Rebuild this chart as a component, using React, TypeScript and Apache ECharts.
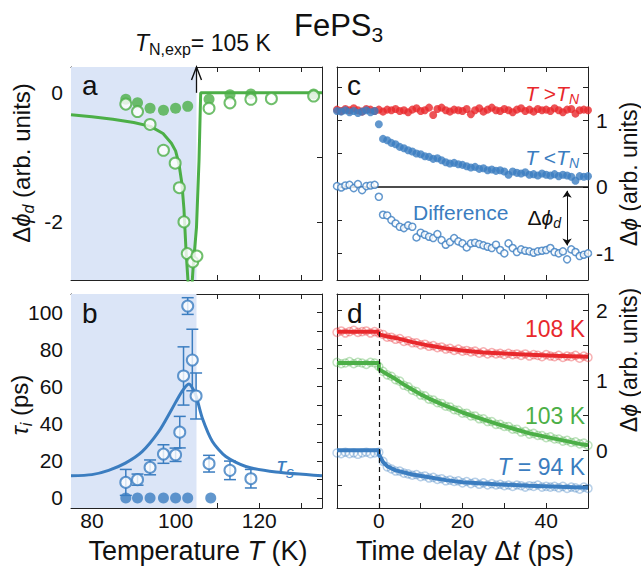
import React, { useEffect, useRef } from "react";
import * as echarts from "echarts";

// ---------------- data ----------------
// Panel a: phase change vs temperature
const TN = 105;
const aFilledT = [88.1, 90.9, 93.9, 97.1, 100, 102.9, 108, 113, 118, 133];
const aFilled = [-0.1, -0.155, -0.24, -0.27, -0.24, -0.21, -0.1, -0.03, -0.02, -0.02];
const aOpenT = [88.1, 90.9, 93.9, 97.1, 99.9, 100.9, 102, 102.8, 104.1, 105.1, 108, 113, 118, 122.9, 133];
const aOpen = [-0.175, -0.29, -0.49, -0.89, -1.09, -1.47, -2.0, -2.49, -2.62, -2.53, -0.24, -0.155, -0.1, -0.09, -0.05];
const aFitT = [75, 80, 85, 90, 94, 97, 99, 100, 100.8, 101.5, 102, 102.5, 103, 103.3, 103.8, 104.2, 105, 105.6, 106, 135];
const aFit = [-0.34, -0.37, -0.41, -0.46, -0.52, -0.63, -0.78, -0.9, -1.1, -1.4, -1.8, -2.45, -2.95, -3.2, -3.1, -2.7, -2.08, -1.05, 0, 0];

// Panel b: relaxation times
const bT = [88.1, 90.9, 93.9, 97.1, 100, 101, 101.9, 102.9, 104, 104.9, 108, 113, 118];
const bTau = [8.4, 9.9, 16.5, 23.7, 23.3, 35.5, 65.8, 103.5, 74.4, 55, 18.5, 14.9, 10.4];
const bErr = [7, 3, 4, 5, 3.6, 8.5, 15.7, 4.5, 16.6, 12.4, 4.5, 5, 5];
const bZeroT = [88.1, 90.9, 93.9, 97.1, 100, 102.9, 108.4];
const bZero = [0, 0, 0, 0, 0, 0, 0];
const bFitT = [75, 80, 84, 88, 92, 96, 99, 101.5, 103.2, 104.8, 106.4, 108.8, 112, 116.8, 124, 135];
const bFit = [12, 12.6, 14.9, 18.8, 25, 35.9, 47.5, 57.4, 61.5, 55.6, 43, 30.5, 22.4, 17, 14, 12];

// Panel c: time traces (t = -10 ... 50 ps)
const times = Array.from({ length: 61 }, (_, i) => i - 10);
const cRed = [
  1.16, 1.14, 1.17, 1.15, 1.18, 1.15, 1.13, 1.17, 1.16, 1.14,
  1.16, 1.13, 1.16, 1.15, 1.17, 1.14, 1.15, 1.12, 1.16, 1.18,
  1.14, 1.15, 1.19, 1.08, 1.17, 1.19, 1.15, 1.13, 1.16, 1.15,
  1.14, 1.17, 1.09, 1.15, 1.18, 1.13, 1.16, 1.19, 1.15, 1.14,
  1.17, 1.15, 1.12, 1.16, 1.18, 1.14, 1.16, 1.13, 1.17, 1.15,
  1.16, 1.14, 1.18, 1.15, 1.12, 1.16, 1.17, 1.1, 1.15, 1.16,
  1.15,
];
const cBlue = [
  1.14, 1.13, 1.15, 1.12, 1.14, 1.11, 1.13, 1.15, 1.12, 1.14,
  0.94, 0.72, 0.7, 0.66, 0.64, 0.6, 0.58, 0.55, 0.53, 0.5,
  0.49, 0.46, 0.45, 0.42, 0.43, 0.4, 0.37, 0.35, 0.36, 0.34,
  0.33, 0.31, 0.29, 0.3, 0.27, 0.28, 0.25, 0.26, 0.24, 0.25,
  0.23, 0.18, 0.23, 0.21, 0.2, 0.22, 0.18, 0.19, 0.17, 0.2,
  0.18, 0.17, 0.19, 0.16, 0.18, 0.17, 0.15, 0.09, 0.16, 0.15,
  0.16,
];
const cDiff = [
  0.01, -0.01, 0.02, 0.03, -0.02, 0.04, -0.05, 0.01, 0.02, 0.03,
  -0.15, -0.42, -0.43, -0.5, -0.55, -0.6, -0.62, -0.58, -0.6, -0.76,
  -0.69, -0.72, -0.75, -0.77, -0.71, -0.8, -0.87, -0.83, -0.77, -0.82,
  -0.85, -0.91, -0.85, -0.84, -0.86, -0.88, -0.9, -0.92, -0.87, -0.95,
  -1.0, -0.85, -0.92, -0.98, -0.94, -0.96, -0.97, -0.99, -0.97, -0.96,
  -0.95, -0.92, -0.98, -1.0, -0.97, -1.09, -0.94, -0.98, -1.04, -1.02,
  -1.0,
];

// Panel d: traces at three temperatures
const dRed = [
  1.69, 1.71, 1.68, 1.7, 1.72, 1.69, 1.7, 1.71, 1.68, 1.7,
  1.68, 1.66, 1.62, 1.62, 1.59, 1.6, 1.56, 1.57, 1.54, 1.54,
  1.51, 1.52, 1.49, 1.5, 1.47, 1.48, 1.45, 1.46, 1.43, 1.45,
  1.42, 1.43, 1.41, 1.42, 1.39, 1.41, 1.38, 1.4, 1.38, 1.39,
  1.37, 1.39, 1.37, 1.38, 1.36, 1.38, 1.35, 1.37, 1.36, 1.34,
  1.37, 1.35, 1.34, 1.36, 1.33, 1.35, 1.34, 1.36, 1.32, 1.35,
  1.33,
];
const dGreen = [
  1.26, 1.24, 1.25, 1.27, 1.24, 1.26, 1.25, 1.23, 1.26, 1.25,
  1.2, 1.13, 1.08, 1.06, 1.01, 0.99, 0.93, 0.91, 0.86, 0.84,
  0.79, 0.78, 0.73, 0.72, 0.68, 0.67, 0.63, 0.62, 0.58, 0.57,
  0.53, 0.53, 0.49, 0.49, 0.45, 0.45, 0.41, 0.41, 0.37, 0.37,
  0.34, 0.34, 0.3, 0.3, 0.26, 0.27, 0.23, 0.24, 0.21, 0.21,
  0.18, 0.19, 0.16, 0.16, 0.13, 0.14, 0.11, 0.12, 0.09, 0.1,
  0.07,
];
const dBlue = [
  -0.04, -0.05, -0.03, -0.05, -0.04, -0.06, -0.04, -0.03, -0.05, -0.04,
  -0.03, -0.16, -0.24, -0.27, -0.3, -0.3, -0.33, -0.34, -0.36, -0.35,
  -0.38, -0.37, -0.4, -0.39, -0.42, -0.41, -0.44, -0.43, -0.45, -0.44,
  -0.47, -0.45, -0.48, -0.46, -0.49, -0.47, -0.5, -0.48, -0.5, -0.49,
  -0.51, -0.5, -0.52, -0.5, -0.51, -0.53, -0.51, -0.52, -0.5, -0.53,
  -0.52, -0.53, -0.52, -0.54, -0.52, -0.55, -0.53, -0.54, -0.56, -0.53,
  -0.55,
];
const dRedFitT = [-10, 0, 0, 2, 4, 8, 12, 16, 20, 25, 30, 36, 42, 50];
const dRedFit = [1.7, 1.7, 1.66, 1.63, 1.61, 1.55, 1.5, 1.46, 1.43, 1.4, 1.385, 1.37, 1.355, 1.34];
const dGreenFitT = [-10, 0, 0, 2, 4, 6, 8, 10, 12, 15, 18, 20, 24, 28, 32, 36, 40, 44, 48, 50];
const dGreenFit = [1.25, 1.25, 1.16, 1.09, 1.02, 0.94, 0.87, 0.8, 0.74, 0.66, 0.59, 0.54, 0.46, 0.38, 0.31, 0.24, 0.19, 0.14, 0.09, 0.07];
const dBlueFitT = [-10, 0, 0, 1, 2, 4, 8, 12, 16, 20, 28, 36, 50];
const dBlueFit = [0, 0, -0.06, -0.17, -0.23, -0.29, -0.35, -0.39, -0.43, -0.46, -0.49, -0.51, -0.54];

// ticks
const tempTicks = [80, 90, 100, 110, 120, 130];
const tempLabels = [80, 100, 120];
const aYTicks = [-2, -1, 0];
const aYLabels = [-2, 0];
const bYTicks = [0, 10, 20, 30, 40, 50, 60, 70, 80, 90, 100];
const bYLabels = [0, 20, 40, 60, 80, 100];
const timeTicks = [0, 10, 20, 30, 40];
const timeLabels = [0, 20, 40];
const cYTicks = [-1, -0.5, 0, 0.5, 1, 1.5];
const cYLabels = [-1, 0, 1];
const dYTicks = [-0.5, 0, 0.5, 1, 1.5, 2];
const dYLabels = [0, 1, 2];

// ---------------- style ----------------
const FONT = '"Liberation Sans", Arial, Helvetica, sans-serif';
const BLUE = "#3b7dc0";
const GREEN = "#4caf47";
const RED = "#e8282c";
const SHADE = "#dbe5f7";
const AX = "#222";
const TXT = "#111";

const G = {
  a: { left: 71, top: 67, width: 251, height: 213 },
  b: { left: 71, top: 294, width: 251, height: 214 },
  c: { left: 337, top: 67, width: 251, height: 213 },
  d: { left: 337, top: 294, width: 251, height: 214 },
};
const TMIN = 75, TMAX = 135;
const AYMIN = -2.9, AYMAX = 0.4;
const BYMIN = -5.4, BYMAX = 110;
const XMIN = -10, XMAX = 50;
const CYMIN = -1.4, CYMAX = 1.8;
const DYMIN = -0.83, DYMAX = 2.24;

const pairs = (xs: number[], ys: number[]) => xs.map((x, i) => [x, ys[i]]);

function axis(gridIndex: number, min: number, max: number, position: string, ticks: number[], labels?: number[], margin = 8) {
  return {
    type: "value",
    gridIndex,
    min,
    max,
    position,
    axisLine: { show: true, onZero: false, lineStyle: { color: AX, width: 1 } },
    axisTick: { show: true, inside: true, length: 5, customValues: ticks, lineStyle: { color: AX, width: 1 } },
    axisLabel: labels
      ? { show: true, customValues: labels, fontSize: 21, fontFamily: FONT, color: TXT, margin }
      : { show: false },
    splitLine: { show: false },
  };
}

function rich(size: number, color: string, lhf: number) {
  const lh = Math.round(size * lhf);
  const ss = Math.round(size * 0.68);
  return {
    n: { fontSize: size, fontFamily: FONT, lineHeight: lh, verticalAlign: "middle", fill: color, color },
    i: { fontSize: size, fontFamily: FONT, fontStyle: "italic", lineHeight: lh, verticalAlign: "middle", fill: color, color },
    s: { fontSize: ss, fontFamily: FONT, lineHeight: ss, verticalAlign: "bottom", fill: color, color },
    si: { fontSize: ss, fontFamily: FONT, fontStyle: "italic", lineHeight: ss, verticalAlign: "bottom", fill: color, color },
  };
}

function txt(x: number, y: number, text: string, size: number, color: string, align = "left", rotation = 0, lhf = 1.25) {
  return {
    type: "text",
    x,
    y,
    rotation,
    z: 100,
    silent: true,
    style: {
      text,
      fill: color,
      fontSize: size,
      fontFamily: FONT,
      align,
      verticalAlign: "middle",
      textAlign: align,
      textVerticalAlign: "middle",
      rich: rich(size, color, lhf),
    },
  };
}

const openCircle = (color: string, bw: number) => ({ color: "#fff", borderColor: color, borderWidth: bw });

export default function App() {
  const ref = useRef<HTMLDivElement>(null);
  useEffect(() => {
    if (!ref.current) return;
    const chart = echarts.init(ref.current, null, { renderer: "svg" });
    const xTN = G.a.left + ((TN - TMIN) / (TMAX - TMIN)) * G.a.width;
    const option: any = {
      animation: false,
      backgroundColor: "#fff",
      grid: [
        { ...G.a, containLabel: false },
        { ...G.b, containLabel: false },
        { ...G.c, containLabel: false },
        { ...G.d, containLabel: false },
      ],
      xAxis: [
        axis(0, TMIN, TMAX, "bottom", tempTicks),
        axis(0, TMIN, TMAX, "top", tempTicks),
        axis(1, TMIN, TMAX, "bottom", tempTicks, tempLabels, 2),
        axis(1, TMIN, TMAX, "top", tempTicks),
        axis(2, XMIN, XMAX, "bottom", timeTicks),
        axis(2, XMIN, XMAX, "top", timeTicks),
        axis(3, XMIN, XMAX, "bottom", timeTicks, timeLabels, 2),
        axis(3, XMIN, XMAX, "top", timeTicks),
      ],
      yAxis: [
        axis(0, AYMIN, AYMAX, "left", aYTicks, aYLabels),
        axis(0, AYMIN, AYMAX, "right", aYTicks),
        axis(1, BYMIN, BYMAX, "left", bYTicks, bYLabels),
        axis(1, BYMIN, BYMAX, "right", bYTicks),
        axis(2, CYMIN, CYMAX, "left", cYTicks),
        axis(2, CYMIN, CYMAX, "right", cYTicks, cYLabels),
        axis(3, DYMIN, DYMAX, "left", dYTicks),
        axis(3, DYMIN, DYMAX, "right", dYTicks, dYLabels),
      ],
      series: [
        // ---- panel a ----
        {
          type: "scatter", xAxisIndex: 0, yAxisIndex: 0, data: [], silent: true, z: 1,
          markArea: { silent: true, itemStyle: { color: SHADE }, data: [[{ xAxis: TMIN }, { xAxis: TN }]] },
        },
        {
          type: "line", xAxisIndex: 0, yAxisIndex: 0, data: pairs(aFitT, aFit), showSymbol: false, symbol: "none",
          clip: true, lineStyle: { color: GREEN, width: 3 }, z: 2,
          markLine: {
            silent: true, symbol: "none", label: { show: false },
            lineStyle: { color: TXT, width: 1.3, type: "solid" },
            data: [[{ coord: [TN, 0] }, { coord: [TN, AYMAX] }]],
          },
        },
        { type: "scatter", xAxisIndex: 0, yAxisIndex: 0, data: pairs(aFilledT, aFilled), symbolSize: 11, itemStyle: { color: GREEN }, z: 3 },
        { type: "scatter", xAxisIndex: 0, yAxisIndex: 0, data: pairs(aOpenT, aOpen), symbolSize: 11, itemStyle: openCircle(GREEN, 2), z: 4 },
        // ---- panel b ----
        {
          type: "scatter", xAxisIndex: 2, yAxisIndex: 2, data: [], silent: true, z: 1,
          markArea: { silent: true, itemStyle: { color: SHADE }, data: [[{ xAxis: TMIN }, { xAxis: TN }]] },
        },
        {
          type: "line", xAxisIndex: 2, yAxisIndex: 2, data: pairs(bFitT, bFit), showSymbol: false, symbol: "none",
          smooth: 0.25, lineStyle: { color: BLUE, width: 3 }, z: 2,
        },
        {
          type: "custom", xAxisIndex: 2, yAxisIndex: 2, z: 3,
          data: bT.map((t, i) => [t, bTau[i] - bErr[i], bTau[i] + bErr[i]]),
          encode: { x: 0, y: [1, 2] },
          renderItem: (_p: any, api: any) => {
            const x = api.value(0);
            const lo = api.coord([x, api.value(1)]);
            const hi = api.coord([x, api.value(2)]);
            const w = 6;
            const st = { stroke: BLUE, lineWidth: 1.5 };
            return {
              type: "group",
              children: [
                { type: "line", shape: { x1: hi[0], y1: hi[1], x2: lo[0], y2: lo[1] }, style: st },
                { type: "line", shape: { x1: hi[0] - w, y1: hi[1], x2: hi[0] + w, y2: hi[1] }, style: st },
                { type: "line", shape: { x1: lo[0] - w, y1: lo[1], x2: lo[0] + w, y2: lo[1] }, style: st },
              ],
            };
          },
        },
        { type: "scatter", xAxisIndex: 2, yAxisIndex: 2, data: pairs(bT, bTau), symbolSize: 11, itemStyle: openCircle(BLUE, 2), z: 4 },
        { type: "scatter", xAxisIndex: 2, yAxisIndex: 2, data: pairs(bZeroT, bZero), symbolSize: 11, itemStyle: { color: BLUE }, z: 5 },
        // ---- panel c ----
        {
          type: "scatter", xAxisIndex: 4, yAxisIndex: 5, data: pairs(times, cRed), symbolSize: 8, itemStyle: { color: RED }, z: 3,
          markLine: {
            silent: true, symbol: "none", label: { show: false },
            lineStyle: { color: TXT, width: 1.5, type: "solid" },
            data: [{ yAxis: 0 }],
          },
        },
        { type: "scatter", xAxisIndex: 4, yAxisIndex: 5, data: pairs(times, cBlue), symbolSize: 8, itemStyle: { color: BLUE }, z: 4 },
        {
          type: "scatter", xAxisIndex: 4, yAxisIndex: 5, data: pairs(times, cDiff), symbolSize: 7, itemStyle: openCircle(BLUE, 1.5), z: 5,
          markLine: {
            silent: true, symbol: ["arrow", "arrow"], symbolSize: 7, label: { show: false },
            lineStyle: { color: TXT, width: 1, type: "solid" },
            data: [[{ coord: [45, -0.06] }, { coord: [45, -0.88] }]],
          },
        },
        // ---- panel d ----
        {
          type: "scatter", xAxisIndex: 6, yAxisIndex: 7, data: pairs(times, dRed), symbolSize: 8,
          itemStyle: { color: "rgba(255,255,255,0)", borderColor: "rgba(232,40,44,0.45)", borderWidth: 1.5 }, z: 3,
          markLine: {
            silent: true, symbol: "none", label: { show: false },
            lineStyle: { color: TXT, width: 1.2, type: [5, 4] },
            data: [{ xAxis: 0 }],
          },
        },
        {
          type: "scatter", xAxisIndex: 6, yAxisIndex: 7, data: pairs(times, dGreen), symbolSize: 8,
          itemStyle: { color: "rgba(255,255,255,0)", borderColor: "rgba(76,175,71,0.45)", borderWidth: 1.5 }, z: 3,
        },
        {
          type: "scatter", xAxisIndex: 6, yAxisIndex: 7, data: pairs(times, dBlue), symbolSize: 8,
          itemStyle: { color: "rgba(255,255,255,0)", borderColor: "rgba(59,125,192,0.45)", borderWidth: 1.5 }, z: 3,
        },
        { type: "line", xAxisIndex: 6, yAxisIndex: 7, data: pairs(dRedFitT, dRedFit), symbol: "none", showSymbol: false, lineStyle: { color: RED, width: 4 }, z: 4 },
        { type: "line", xAxisIndex: 6, yAxisIndex: 7, data: pairs(dGreenFitT, dGreenFit), symbol: "none", showSymbol: false, lineStyle: { color: GREEN, width: 4 }, z: 4 },
        { type: "line", xAxisIndex: 6, yAxisIndex: 7, data: pairs(dBlueFitT, dBlueFit), symbol: "none", showSymbol: false, lineStyle: { color: BLUE, width: 4 }, z: 4 },
      ],
      graphic: [
        txt(294, 25, "{n|FePS}{s|3}", 31, TXT),
        txt(135, 43, "{i|T}{s|N,exp}{n|= 105 K}", 23, TXT),
        {
          type: "polyline", z: 100, silent: true,
          shape: { points: [[xTN - 5, G.a.top + 13], [xTN, G.a.top], [xTN + 5, G.a.top + 13]] },
          style: { stroke: TXT, lineWidth: 1.4, fill: "none" },
        },
        txt(198, 551, "{n|Temperature }{i|T}{n| (K)}", 27, TXT, "center", 0, 1.0),
        txt(465, 551, "{n|Time delay Δ}{i|t}{n| (ps)}", 27, TXT, "center", 0, 1.0),
        txt(21, 163, "{n|Δ}{i|ϕ}{si|d}{n| (arb. units)}", 24, TXT, "center", Math.PI / 2),
        txt(19, 405, "{i|τ}{si|i}{n| (ps)}", 24, TXT, "center", Math.PI / 2),
        txt(629, 174, "{n|Δ}{i|ϕ}{n| (arb. units)}", 23, TXT, "center", Math.PI / 2, 1.0),
        txt(629, 360, "{n|Δ}{i|ϕ}{n| (arb. units)}", 23, TXT, "center", Math.PI / 2, 1.0),
        txt(82, 85, "{n|a}", 28, TXT),
        txt(82, 313, "{n|b}", 28, TXT),
        txt(347, 85, "{n|c}", 28, TXT),
        txt(347, 313, "{n|d}", 28, TXT),
        txt(579, 93, "{i|T}{n| >}{i|T}{si|N}", 21, RED, "right"),
        txt(579, 157, "{i|T}{n| <}{i|T}{si|N}", 21, BLUE, "right"),
        txt(413, 212, "{n|Difference}", 21, BLUE),
        txt(561, 217, "{n|Δ}{i|ϕ}{si|d}", 21, TXT, "right"),
        txt(585, 329, "{n|108 K}", 23, RED, "right"),
        txt(585, 416, "{n|103 K}", 23, GREEN, "right"),
        txt(585, 467, "{i|T}{n| = 94 K}", 23, BLUE, "right"),
        txt(277, 465, "{i|τ}{si|s}", 24, BLUE),
      ],
    };
    chart.setOption(option);
    return () => chart.dispose();
  }, []);
  return (
    <div
      ref={ref}
      style={{ position: "fixed", left: 0, top: 0, width: 641, height: 579, background: "#fff" }}
    />
  );
}
